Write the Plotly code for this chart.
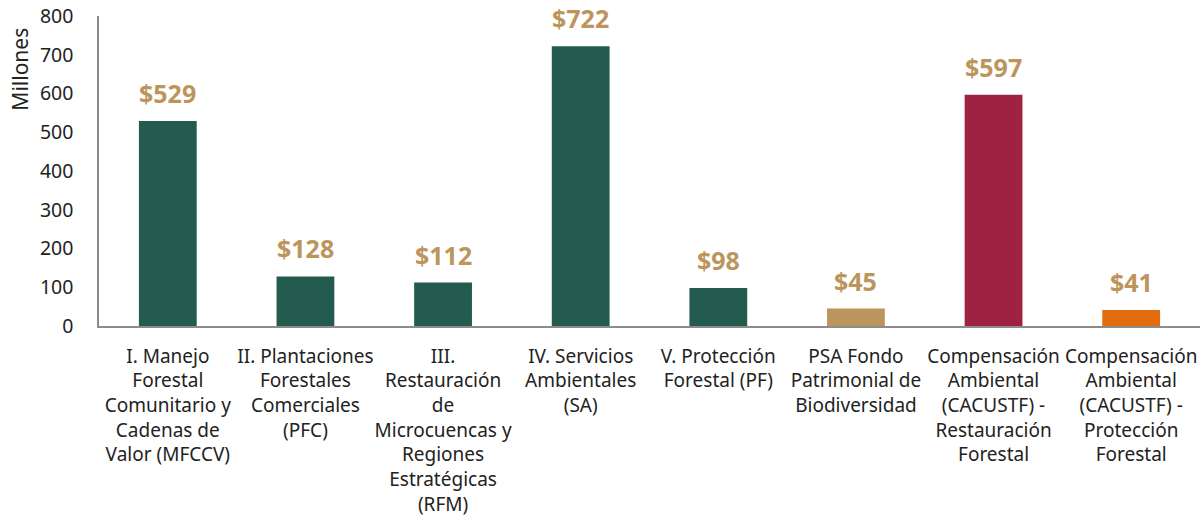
import plotly.graph_objects as go

categories = [
    "I. Manejo<br>Forestal<br>Comunitario y<br>Cadenas de<br>Valor (MFCCV)",
    "II. Plantaciones<br>Forestales<br>Comerciales<br>(PFC)",
    "III.<br>Restauración<br>de<br>Microcuencas y<br>Regiones<br>Estratégicas<br>(RFM)",
    "IV. Servicios<br>Ambientales<br>(SA)",
    "V. Protección<br>Forestal (PF)",
    "PSA Fondo<br>Patrimonial de<br>Biodiversidad",
    "Compensación<br>Ambiental<br>(CACUSTF) -<br>Restauración<br>Forestal",
    "Compensación<br>Ambiental<br>(CACUSTF) -<br>Protección<br>Forestal",
]
values = [529, 128, 112, 722, 98, 45, 597, 41]
labels = ["$529", "$128", "$112", "$722", "$98", "$45", "$597", "$41"]
colors = ["#235B4E", "#235B4E", "#235B4E", "#235B4E", "#235B4E", "#BC955C", "#9F2241", "#E36C0C"]
y_ticks = [0, 100, 200, 300, 400, 500, 600, 700, 800]

font = "Noto Sans, Open Sans, sans-serif"

fig = go.Figure()
fig.add_trace(go.Bar(
    x=list(range(len(categories))), y=values,
    marker=dict(color=colors, line=dict(width=0)),
    width=0.42, hoverinfo="skip",
))

for i, (v, t) in enumerate(zip(values, labels)):
    fig.add_annotation(x=i, y=v, text=t, showarrow=False, yanchor="bottom", yshift=9,
                       font=dict(family=font, size=25, color="#BC955C", weight="bold"))

fig.add_annotation(text="Millones", xref="paper", yref="paper", x=-0.0718, y=0.83,
                   xanchor="center", yanchor="middle", textangle=-90, showarrow=False,
                   font=dict(family=font, size=21, color="#222"))

fig.update_layout(
    width=1204, height=521,
    margin=dict(l=99, r=4, t=16, b=195),
    plot_bgcolor="white", paper_bgcolor="white",
    showlegend=False,
    xaxis=dict(
        tickmode="array", tickvals=list(range(len(categories))), ticktext=categories,
        range=[-0.5, len(categories) - 0.5],
        showline=True, linecolor="#8c8c8c", linewidth=1.5,
        ticks="", tickangle=0, showgrid=False, automargin=False,
        ticklabelstandoff=12, ticklabeloverflow="allow",
        tickfont=dict(family=font, size=19, color="#222"),
    ),
    yaxis=dict(
        range=[0, 800], tickvals=y_ticks,
        showline=True, linecolor="#8c8c8c", linewidth=1.5,
        showgrid=False, zeroline=False, ticks="", automargin=False,
        ticklabelstandoff=20, ticklabeloverflow="allow",
        tickfont=dict(family=font, size=19.5, color="#222"),
    ),
)

fig.write_html("out.html", config={"displayModeBar": False},
               post_script="document.body.style.margin='0';document.body.style.overflow='hidden';")
